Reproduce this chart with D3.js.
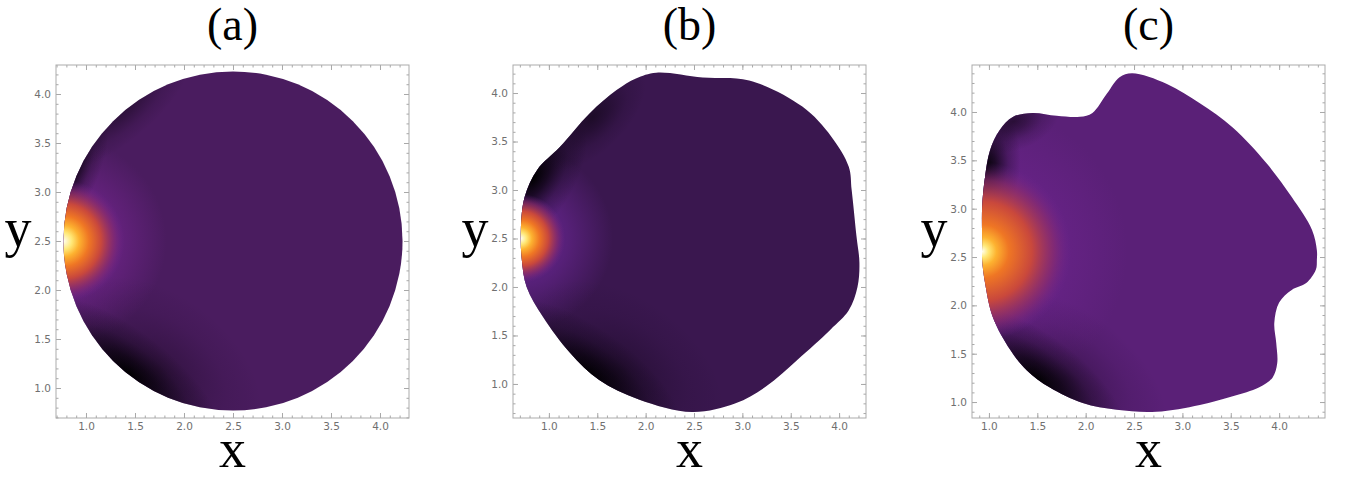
<!DOCTYPE html>
<html>
<head>
<meta charset="utf-8">
<script src="https://cdn.jsdelivr.net/npm/d3@7"></script>
<style>
  body { margin: 0; background: #fff; }
  .tick text { font-family: "DejaVu Sans", sans-serif; font-size: 10.5px; fill: #707070; }
  .tick line { stroke: #a8a8a8; }
  .title, .lab { font-family: "Liberation Serif", "Times New Roman", serif; fill: #000; }
</style>
</head>
<body>
<svg width="1345" height="480"></svg>
<script>
const svg = d3.select('svg');

// panel titles and plot ranges
const titles = ['(a)', '(b)', '(c)'];
const xDomains = [[0.694, 4.296], [0.629, 4.278], [0.825, 4.474]];
const yDomains = [[0.694, 4.296], [0.649, 4.289], [0.835, 4.486]];
const majorTicks = [1.0, 1.5, 2.0, 2.5, 3.0, 3.5, 4.0];

// (a) is a circle: centre x, centre y, radius
const circleA = [2.5, 2.5, 1.73];

// (b) boundary
const shapeBx = [4.18, 4.13, 4.10, 3.92, 3.62, 3.07, 2.59, 2.11, 1.90, 1.70, 1.42, 1.11, 0.88, 0.75,
  0.71, 0.72, 0.77, 0.94, 1.22, 1.52, 1.93, 2.48, 2.93, 3.24, 3.57, 3.91, 4.10, 4.19, 4.21];
const shapeBy = [2.52, 3.00, 3.24, 3.55, 3.86, 4.13, 4.16, 4.21, 4.15, 4.03, 3.79, 3.44, 3.21, 2.93,
  2.59, 2.28, 2.00, 1.69, 1.32, 1.04, 0.84, 0.71, 0.80, 0.97, 1.25, 1.56, 1.76, 2.00, 2.25];

// (c) boundary
const shapeCx = [4.39, 4.34, 4.13, 3.87, 3.52, 3.18, 2.84, 2.48, 2.35, 2.22, 2.07, 1.94, 1.70, 1.45,
  1.25, 1.11, 1.01, 0.96, 0.93, 0.93, 0.93, 0.96, 1.04, 1.22, 1.39, 1.63, 1.97, 2.32, 2.73, 3.18,
  3.52, 3.79, 3.93, 3.98, 3.97, 3.95, 4.00, 4.13, 4.28, 4.38, 4.39];
const shapeCy = [2.57, 2.78, 3.12, 3.47, 3.84, 4.09, 4.29, 4.40, 4.36, 4.19, 3.99, 3.95, 3.96, 3.99,
  3.95, 3.81, 3.60, 3.33, 3.02, 2.64, 2.47, 2.23, 1.88, 1.54, 1.33, 1.15, 0.99, 0.92, 0.90, 0.97,
  1.06, 1.15, 1.25, 1.40, 1.61, 1.82, 2.03, 2.16, 2.23, 2.37, 2.47];

// hot spot on the left edge
const spotX = [0.77, 0.71, 0.93];
const spotY = [2.50, 2.50, 2.56];
const spotR = [0.62, 0.46, 0.92];
const spotOffsets = [
  [0, 0.14, 0.26, 0.42, 0.62, 0.82, 1],
  [0, 0.13, 0.25, 0.42, 0.62, 0.82, 1],
  [0, 0.07, 0.16, 0.3, 0.56, 0.8, 1]
];
const spotColors = ['#fffff2', '#ffe876', '#fdb230', '#ef7624', '#c9483c', '#8e2d6c', '#6e2590'];
const spotAlpha = [1, 1, 1, 1, 1, 0.7, 0];

const haloR = [1.05, 0.95, 1.5];
const baseColor = ['#4a1c5f', '#3a174f', '#5a2077'];
const haloColor = ['#6a2384', '#5c2280', '#682388'];

// dark lobes along the boundary: x, y, radius along edge, radius across, edge angle, strength
const darkLobes = [
  [[1.44, 1.15, 1.15, 0.42, -38, 1.0], [1.75, 1.2, 1.2, 0.75, -38, 0.3],
   [0.83, 3.22, 0.75, 0.3, 67, 0.95], [1.35, 3.85, 0.9, 0.33, 40, 0.45]],
  [[1.42, 1.11, 1.15, 0.45, -36, 1.0], [1.75, 1.15, 1.2, 0.75, -36, 0.3],
   [0.84, 3.13, 0.8, 0.42, 58, 1.0], [1.45, 3.75, 0.7, 0.35, 45, 0.5]],
  [[1.50, 1.24, 1.1, 0.45, -37, 1.0], [1.8, 1.25, 1.2, 0.7, -37, 0.3],
   [0.96, 3.40, 0.65, 0.36, 82, 1.0], [1.25, 3.9, 0.5, 0.3, 20, 0.55]]
];

const frameX = [56, 513, 972];
const frameY = 65;
const size = 353;

const defs = svg.append('defs');

const shapes = [
  null,
  shapeBx.map((d, i) => [d, shapeBy[i]]),
  shapeCx.map((d, i) => [d, shapeCy[i]])
];

titles.forEach((t, i) => {
  const x = d3.scaleLinear().domain(xDomains[i]).range([0, size]);
  const y = d3.scaleLinear().domain(yDomains[i]).range([size, 0]);
  const k = x(1) - x(0);

  const g = svg.append('g').attr('transform', `translate(${frameX[i]},${frameY})`);

  // clip shape
  const clip = defs.append('clipPath').attr('id', `clip${i}`);
  if (i === 0) {
    clip.append('circle')
      .attr('cx', x(circleA[0])).attr('cy', y(circleA[1])).attr('r', circleA[2] * k);
  } else {
    clip.append('path')
      .attr('d', d3.line().x(d => x(d[0])).y(d => y(d[1])).curve(d3.curveCatmullRomClosed.alpha(0.5))(shapes[i]));
  }

  // radial gradient in user space, optionally stretched and turned
  const radial = (id, cx, cy, rx, ry, ang, stops) => {
    const gr = defs.append('radialGradient').attr('id', id)
      .attr('gradientUnits', 'userSpaceOnUse')
      .attr('cx', 0).attr('cy', 0).attr('r', 1)
      .attr('gradientTransform', `translate(${cx},${cy}) rotate(${-ang}) scale(${rx},${ry})`);
    stops.forEach(s => gr.append('stop').attr('offset', s[0]).attr('stop-color', s[1]).attr('stop-opacity', s[2]));
    return `url(#${id})`;
  };

  const field = g.append('g').attr('clip-path', `url(#clip${i})`);
  const layer = fill => field.append('rect').attr('width', size).attr('height', size).attr('fill', fill);

  layer(baseColor[i]);

  layer(radial(`halo${i}`, x(spotX[i]), y(spotY[i]), haloR[i] * k, haloR[i] * k, 0,
    [[0, haloColor[i], 1], [0.5, haloColor[i], 0.85], [1, haloColor[i], 0]]));

  darkLobes[i].forEach((d, j) => {
    layer(radial(`dark${i}${j}`, x(d[0]), y(d[1]), d[2] * k, d[3] * k, d[4],
      [[0, '#000', d[5]], [0.3, '#07020b', d[5] * 0.75], [0.65, '#0d0514', d[5] * 0.28], [1, '#0d0514', 0]]));
  });

  layer(radial(`spot${i}`, x(spotX[i]), y(spotY[i]), spotR[i] * k, spotR[i] * k, 0,
    spotOffsets[i].map((o, j) => [o, spotColors[j], spotAlpha[j]])));

  // minor and major ticks on all four sides, pointing inward
  const minor = d3.range(Math.ceil(xDomains[i][0] * 10), Math.floor(xDomains[i][1] * 10) + 1).map(d => d / 10);
  const minorY = d3.range(Math.ceil(yDomains[i][0] * 10), Math.floor(yDomains[i][1] * 10) + 1).map(d => d / 10);
  const fmt = d3.format('.1f');

  const axes = [
    [d3.axisBottom(x), `translate(0,${size})`, minor, true],
    [d3.axisTop(x), 'translate(0,0)', minor, false],
    [d3.axisLeft(y), 'translate(0,0)', minorY, true],
    [d3.axisRight(y), `translate(${size},0)`, minorY, false]
  ];
  axes.forEach(([ax, tr, mn, lbl]) => {
    g.append('g').attr('transform', tr)
      .call(ax.tickValues(mn).tickSize(-2.5).tickFormat(''))
      .call(a => a.select('.domain').remove());
    g.append('g').attr('transform', tr)
      .call(ax.tickValues(majorTicks).tickSize(-5).tickPadding(lbl ? 5 : 0).tickFormat(lbl ? fmt : ''))
      .call(a => a.select('.domain').remove());
  });

  g.append('rect').attr('width', size).attr('height', size)
    .attr('fill', 'none').attr('stroke', '#ababab').attr('stroke-width', 1);

  // titles and axis labels
  svg.append('text').attr('class', 'title')
    .attr('x', frameX[i] + size / 2).attr('y', 40)
    .attr('text-anchor', 'middle').attr('font-size', 46).text(t);
  svg.append('text').attr('class', 'lab')
    .attr('x', frameX[i] + size / 2).attr('y', 467)
    .attr('text-anchor', 'middle').attr('font-size', 54).text('x');
  svg.append('text').attr('class', 'lab')
    .attr('x', frameX[i] - 38).attr('y', 246)
    .attr('text-anchor', 'middle').attr('font-size', 54).text('y');
});
</script>
</body>
</html>
